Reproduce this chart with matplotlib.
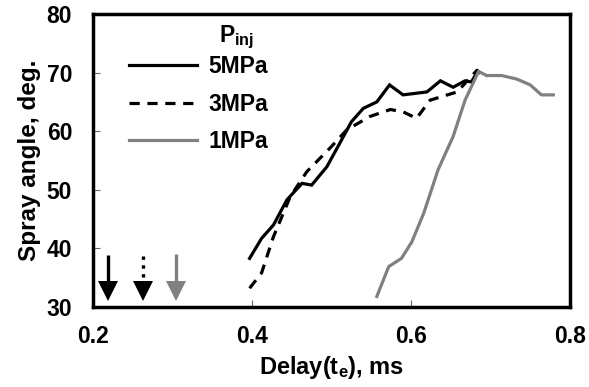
import matplotlib
matplotlib.use("Agg")
import matplotlib.pyplot as plt
from matplotlib.lines import Line2D

plt.rcParams['font.family'] = ['Liberation Sans', 'DejaVu Sans']
plt.rcParams['font.weight'] = 'bold'
plt.rcParams['mathtext.fontset'] = 'custom'
plt.rcParams['mathtext.rm'] = 'Liberation Sans:bold'
plt.rcParams['mathtext.bf'] = 'Liberation Sans:bold'
plt.rcParams['mathtext.it'] = 'Liberation Sans:bold'

# ---- data ----
x_5mpa = [0.397, 0.412, 0.427, 0.444, 0.463, 0.475, 0.494, 0.509, 0.525, 0.540,
          0.557, 0.573, 0.590, 0.620, 0.637, 0.653, 0.668, 0.676, 0.682]
y_5mpa = [38.3, 41.7, 44.0, 48.3, 51.1, 50.8, 53.9, 57.6, 61.6, 63.9,
          65.0, 67.9, 66.2, 66.7, 68.6, 67.5, 68.6, 68.4, 69.8]

x_3mpa = [0.397, 0.412, 0.427, 0.448, 0.469, 0.498, 0.519, 0.548, 0.574, 0.590,
          0.607, 0.624, 0.658, 0.683, 0.695]
y_3mpa = [33.2, 35.8, 42.0, 48.8, 53.1, 57.1, 60.2, 62.5, 63.7, 63.3,
          62.2, 65.3, 66.7, 70.4, 69.0]

x_1mpa = [0.557, 0.572, 0.588, 0.601, 0.616, 0.634, 0.653, 0.668, 0.685, 0.695,
          0.714, 0.733, 0.750, 0.764, 0.779]
y_1mpa = [31.8, 36.9, 38.3, 41.1, 46.0, 53.4, 59.1, 65.3, 70.2, 69.5,
          69.5, 68.9, 67.9, 66.2, 66.2]

series_labels = ['5MPa', '3MPa', '1MPa']
legend_title = r'P$_{\rm inj}$'

arrow_x = [0.219, 0.263, 0.305]
arrow_top = [38.9, 38.7, 39.0]
arrow_head_center = 32.7
arrow_head_base = 34.4

x_ticks = [0.2, 0.4, 0.6, 0.8]
x_ticklabels = ['0.2', '0.4', '0.6', '0.8']
y_ticks = [30, 40, 50, 60, 70, 80]
y_ticklabels = ['30', '40', '50', '60', '70', '80']

GRAY = '#808080'
LW = 2.3
DASH = (0, (3.2, 2.4))
FS = 16.5

fig = plt.figure(figsize=(5.89, 3.87), dpi=100)
ax = fig.add_axes([93 / 589, 1 - 307 / 387, 477 / 589, 293 / 387])

ax.plot(x_5mpa, y_5mpa, color='black', lw=LW, solid_joinstyle='miter')
ax.plot(x_3mpa, y_3mpa, color='black', lw=LW, linestyle=DASH)
ax.plot(x_1mpa, y_1mpa, color=GRAY, lw=LW)

# arrows
arrow_styles = [('black', '-'), ('black', ':'), (GRAY, '-')]
for xa, top, (c, ls) in zip(arrow_x, arrow_top, arrow_styles):
    ax.plot([xa, xa], [top, arrow_head_base], color=c, lw=2.4, linestyle=ls,
            solid_capstyle='butt', dash_capstyle='butt')
    ax.plot([xa], [arrow_head_center], marker='v', markersize=15, color=c,
            markeredgewidth=0)

ax.set_xlim(0.2, 0.8)
ax.set_ylim(30, 80)
ax.set_xticks(x_ticks)
ax.set_xticklabels(x_ticklabels)
ax.set_yticks(y_ticks)
ax.set_yticklabels(y_ticklabels)
ax.tick_params(axis='x', direction='in', length=5, width=0.8, color='#666666',
               pad=13, labelsize=FS)
ax.tick_params(axis='y', direction='in', length=5, width=0.8, color='#666666',
               pad=15, labelsize=FS)
for lab in ax.get_xticklabels() + ax.get_yticklabels():
    lab.set_fontweight('bold')
for sp in ax.spines.values():
    sp.set_linewidth(2.5)

ax.set_xlabel(r'Delay(t$_{\rm e}$), ms', fontsize=FS + 0.5, fontweight='bold', labelpad=4)
ax.set_ylabel('Spray angle, deg.', fontsize=FS + 1, fontweight='bold', labelpad=4)

handles = [Line2D([], [], color='black', lw=LW),
           Line2D([], [], color='black', lw=LW, linestyle=DASH),
           Line2D([], [], color=GRAY, lw=LW)]
leg = ax.legend(handles, series_labels, loc='upper left',
                bbox_to_anchor=(0.0755, 0.86), frameon=False,
                prop={'size': FS, 'weight': 'bold'},
                handlelength=2.95, handletextpad=0.5, labelspacing=0.64,
                borderpad=0, borderaxespad=0)

ax.text(0.30, 0.905, legend_title, transform=ax.transAxes, ha='center',
        va='baseline', fontsize=FS, fontweight='bold')

fig.savefig('out.png', dpi=100)
